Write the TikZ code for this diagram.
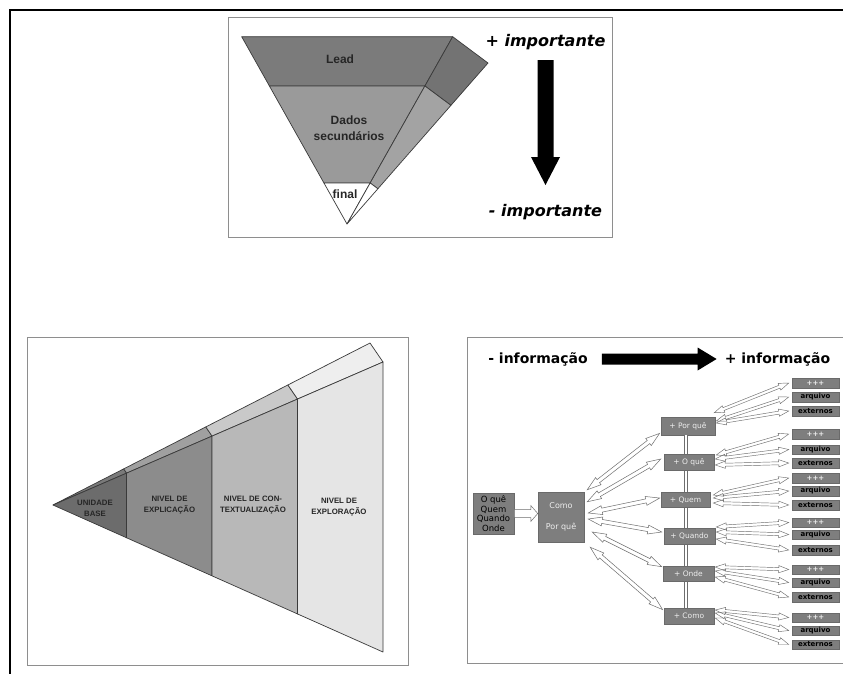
\documentclass[tikz,border=0pt]{standalone}
\usepackage{fontspec}
\setmainfont{Liberation Sans}
\newfontfamily\dvs{DejaVu Sans}
\usetikzlibrary{calc}

\definecolor{panelln}{HTML}{8E8E8E}
\definecolor{edgeln}{HTML}{3A3A3A}
\definecolor{leadfront}{HTML}{7B7B7B}
\definecolor{leadside}{HTML}{737373}
\definecolor{dadosfront}{HTML}{9A9A9A}
\definecolor{dadosside}{HTML}{A3A3A3}
\definecolor{lvA}{HTML}{6C6C6C}
\definecolor{lvB}{HTML}{8C8C8C}
\definecolor{lvC}{HTML}{B8B8B8}
\definecolor{lvD}{HTML}{E5E5E5}
\definecolor{stA}{HTML}{7A7A7A}
\definecolor{stB}{HTML}{A0A0A0}
\definecolor{stC}{HTML}{C9C9C9}
\definecolor{stD}{HTML}{EEEEEE}
\definecolor{boxfill}{HTML}{7E7E7E}
\definecolor{boxedge}{HTML}{6A6A6A}
\definecolor{boxtext}{HTML}{EEEEEE}
\definecolor{arrowln}{HTML}{6E6E6E}

\tikzset{
  hl/.store in=\arrL, hw/.store in=\arrH, sw/.store in=\arrS,
  ts/.store in=\arrB, te/.store in=\arrE,
  hl=10pt, hw=3.5pt, sw=1.5pt, ts=0pt, te=0pt,
  % outline of an arrow with a head at both ends
  twohead/.style={to path={
    let \p1=(\tikztostart), \p2=(\tikztotarget),
        \n1={atan2(\y2-\y1,\x2-\x1)},
        \n2={veclen(\x2-\x1,\y2-\y1)-\arrE},
        \n3={\arrB} in
    {[shift={(\p1)}, rotate=\n1]
      ({\n3*1pt},0pt) -- ({\n3*1pt+\arrL},\arrH) -- ({\n3*1pt+\arrL},\arrS)
      -- ({\n2*1pt-\arrL},\arrS) -- ({\n2*1pt-\arrL},\arrH) -- ({\n2*1pt},0pt)
      -- ({\n2*1pt-\arrL},-\arrH) -- ({\n2*1pt-\arrL},-\arrS)
      -- ({\n3*1pt+\arrL},-\arrS) -- ({\n3*1pt+\arrL},-\arrH) -- cycle}}},
  % outline of an arrow with a single head
  onehead/.style={to path={
    let \p1=(\tikztostart), \p2=(\tikztotarget),
        \n1={atan2(\y2-\y1,\x2-\x1)},
        \n2={veclen(\x2-\x1,\y2-\y1)-\arrE},
        \n3={\arrB} in
    {[shift={(\p1)}, rotate=\n1]
      ({\n3*1pt},\arrS) -- ({\n2*1pt-\arrL},\arrS) -- ({\n2*1pt-\arrL},\arrH)
      -- ({\n2*1pt},0pt) -- ({\n2*1pt-\arrL},-\arrH) -- ({\n2*1pt-\arrL},-\arrS)
      -- ({\n3*1pt},-\arrS) -- cycle}}},
  panel/.style={draw=panelln, line width=1pt},
  face/.style={draw=edgeln, line width=0.7pt, line join=round},
  funtxt/.style={inner sep=0pt, text=black!85, font=\bfseries\fontsize{12}{16}\selectfont, align=center},
  lvtxt/.style={inner sep=0pt, text=black!85, font=\bfseries\fontsize{7.8}{11}\selectfont, align=center},
  bigtxt/.style={inner sep=0pt, font=\dvs\bfseries\itshape\fontsize{16}{18}\selectfont},
  infotxt/.style={inner sep=0pt, font=\dvs\bfseries\fontsize{14}{16}\selectfont},
  gbox/.style={fill=boxfill, draw=boxedge, line width=0.5pt, inner sep=0pt,
    font=\dvs\fontsize{7.5}{9}\selectfont},
  midbox/.style={gbox, text=boxtext, minimum width=51pt, minimum height=16pt},
  leaf/.style={gbox, text=black, minimum width=47pt, minimum height=9.5pt,
    font=\dvs\bfseries\fontsize{7}{8}\selectfont},
  leafplus/.style={leaf, text=boxtext},
  longarr/.style={twohead, draw=arrowln, line width=0.5pt, hl=14pt, hw=4.5pt, sw=2pt},
  thinarr/.style={twohead, draw=arrowln, line width=0.45pt, hl=10pt, hw=3.6pt, sw=1.5pt},
  fatarr/.style={onehead, draw=arrowln, fill=white, line width=0.5pt, hl=7pt, hw=8pt, sw=4pt},
  blockarr/.style={onehead, fill=black},
  dline/.style={draw=arrowln, double=white, double distance=2pt, line width=0.6pt}
}

\begin{document}
\begin{tikzpicture}[x=1pt, y=-1pt]
\useasboundingbox (0,0) rectangle (843,673);
\fill[white] (0,0) rectangle (843,673);

% outer frame
\draw[line width=2.8pt, line join=miter] (10,690) -- (10,10) -- (860,10);

% ---------- inverted pyramid ----------
\draw[panel] (228,17) rectangle (612,237);
\coordinate (tl) at (241.7,36.7);
\coordinate (tr) at (452.7,36.7);
\coordinate (bk) at (488,63);
\coordinate (ap) at (347,224);
\coordinate (L1) at ($(tl)!0.263!(ap)$);
\coordinate (R1) at ($(tr)!0.263!(ap)$);
\coordinate (S1) at ($(bk)!0.263!(ap)$);
\coordinate (L2) at ($(tl)!0.781!(ap)$);
\coordinate (R2) at ($(tr)!0.781!(ap)$);
\coordinate (S2) at ($(bk)!0.781!(ap)$);
\filldraw[face, fill=leadfront] (tl) -- (tr) -- (R1) -- (L1) -- cycle;
\filldraw[face, fill=dadosfront] (L1) -- (R1) -- (R2) -- (L2) -- cycle;
\filldraw[face, fill=white] (L2) -- (R2) -- (ap) -- cycle;
\filldraw[face, fill=leadside] (tr) -- (bk) -- (S1) -- (R1) -- cycle;
\filldraw[face, fill=dadosside] (R1) -- (S1) -- (S2) -- (R2) -- cycle;
\filldraw[face, fill=white] (R2) -- (S2) -- (ap) -- cycle;
\node[funtxt] (lead) at (340,59) {Lead};
\node[funtxt] (dados) at (349,128) {Dados\\secundários};
\node[funtxt] (final) at (345,194) {final};

\node[bigtxt] (imp1) at (545.5,42) {+ importante};
\node[bigtxt] (imp2) at (545.5,212) {- importante};
\fill[blockarr, hl=28pt, hw=14.5pt, sw=8pt, ts=18pt, te=27pt] (imp1.center) to (imp2.center);

% ---------- expanding levels ----------
\draw[panel] (27,337) rectangle (408,665);
\coordinate (A) at (53,505);
\coordinate (T4) at (383,362);
\coordinate (K4) at (370,343);
\coordinate (B4) at (383,652);
\foreach \i/\f in {1/0.223, 2/0.482, 3/0.741}{
  \coordinate (T\i) at ($(A)!\f!(T4)$);
  \coordinate (K\i) at ($(A)!\f!(K4)$);
  \coordinate (B\i) at ($(A)!\f!(B4)$);
}
\filldraw[face, fill=stA] (A) -- (K1) -- (T1) -- cycle;
\filldraw[face, fill=stB] (T1) -- (K1) -- (K2) -- (T2) -- cycle;
\filldraw[face, fill=stC] (T2) -- (K2) -- (K3) -- (T3) -- cycle;
\filldraw[face, fill=stD] (T3) -- (K3) -- (K4) -- (T4) -- cycle;
\filldraw[face, fill=lvA] (A) -- (T1) -- (B1) -- cycle;
\filldraw[face, fill=lvB] (T1) -- (T2) -- (B2) -- (B1) -- cycle;
\filldraw[face, fill=lvC] (T2) -- (T3) -- (B3) -- (B2) -- cycle;
\filldraw[face, fill=lvD] (T3) -- (T4) -- (B4) -- (B3) -- cycle;
\node[lvtxt] (ub) at (95,508) {UNIDADE\\BASE};
\node[lvtxt] (nx) at (169.5,505.5) {NIVEL DE\\EXPLICAÇÃO};
\node[lvtxt] (nc) at (253,505.5) {NIVEL DE CON-\\TEXTUALIZAÇÃO};
\node[lvtxt] (ne) at (339,507) {NIVEL DE\\EXPLORAÇÃO};

% ---------- information tree ----------
\draw[panel] (467,337) rectangle (860,663);
\node[infotxt] (minfo) at (538,359) {- informação};
\node[infotxt] (pinfo) at (777.5,359) {+ informação};
\fill[blockarr, hl=19pt, hw=11.5pt, sw=5.5pt, ts=14pt, te=8pt] (minfo.east) to (pinfo.west);

\node[gbox, text=black, minimum width=41pt, minimum height=41pt, align=center,
  font=\dvs\fontsize{8.5}{9.5}\selectfont] (b1) at (493.5,513.5) {O quê\\Quem\\Quando\\Onde};
\node[gbox, text=boxtext, minimum width=46pt, minimum height=50pt, align=center,
  font=\dvs\fontsize{8}{9}\selectfont] (b2) at (561,517) {Como\\[12pt]Por quê};
\draw[fatarr] (b1.east) to (b1.east -| b2.west);

\node[midbox, minimum width=54pt, minimum height=18pt] (pq) at (688,426) {+ Por quê};
\node[midbox, minimum width=50pt] (cm) at (689,616) {+ Como};
\draw[dline] ([xshift=-2pt]pq.south) -- ([xshift=-2pt]pq.south |- cm.north);
\node[midbox, minimum width=50pt] (oq) at (689,462) {+ O quê};
\node[midbox, minimum width=49pt, minimum height=15pt] (qm) at (685.5,500) {+ Quem};
\node[midbox] (qd) at (689.5,536) {+ Quando};
\node[midbox, minimum height=15pt] (on) at (688.5,573.5) {+ Onde};

\draw[longarr] ([shift={(3,-2)}]b2.north east) to ([shift={(-1,-2)}]pq.south west);
\draw[longarr] ([shift={(3,10)}]b2.north east) to ([shift={(-3,-3)}]oq.west);
\draw[longarr] ([shift={(4,-4)}]b2.east) to ([shift={(-1,-2)}]qm.west);
\draw[longarr] ([shift={(4,2)}]b2.east) to ([shift={(-2,-4)}]qd.west);
\draw[longarr] ([shift={(8,15)}]b2.east) to ([shift={(-1,1)}]on.north west);
\draw[longarr] ([shift={(6,5)}]b2.south east) to ([shift={(-1,2)}]cm.north west);

% leaves
\foreach \g/\ya/\yb/\yc in {1/383/397/411, 2/434/449.5/463, 3/478/491/505,
                            4/522.5/534.5/550, 5/569.5/582.5/597, 6/617.5/630.5/644.5}{
  \node[leafplus] (a\g) at (815.5,\ya) {+++};
  \node[leaf] (r\g) at (815.5,\yb) {arquivo};
  \node[leaf] (x\g) at (815.5,\yc) {externos};
}

\draw[thinarr] ([shift={(-1,-4)}]pq.north east) to ([xshift=-3pt]a1.west);
\draw[thinarr] ([shift={(1,-5)}]pq.east) to ([xshift=-3pt]r1.west);
\draw[thinarr] ([shift={(1,-3)}]pq.east) to ([xshift=-3pt]x1.west);

\draw[thinarr] ([shift={(2,-7)}]oq.east) to ([xshift=-3pt]a2.west);
\draw[thinarr] ([shift={(1,-3)}]oq.east) to ([xshift=-3pt]r2.west);
\draw[thinarr] ([shift={(1,3)}]oq.east) to ([xshift=-3pt]x2.west);

\draw[thinarr] ([shift={(3,-5)}]qm.east) to ([xshift=-3pt]a3.west);
\draw[thinarr] ([shift={(3,-2)}]qm.east) to ([xshift=-3pt]r3.west);
\draw[thinarr] ([shift={(3,3)}]qm.east) to ([xshift=-3pt]x3.west);

\draw[thinarr] ([shift={(1,-9)}]qd.east) to ([xshift=-3pt]a4.west);
\draw[thinarr] ([shift={(1,-4)}]qd.east) to ([xshift=-3pt]r4.west);
\draw[thinarr] ([shift={(1,3)}]qd.east) to ([xshift=-3pt]x4.west);

\draw[thinarr] ([shift={(1,-6.5)}]on.east) to ([xshift=-3pt]a5.west);
\draw[thinarr] ([shift={(1,-2.5)}]on.east) to ([xshift=-3pt]r5.west);
\draw[thinarr] ([shift={(1,3.5)}]on.east) to ([xshift=-3pt]x5.west);

\draw[thinarr] ([shift={(1,-6)}]cm.east) to ([xshift=-3pt]a6.west);
\draw[thinarr] ([shift={(1,-3)}]cm.east) to ([xshift=-3pt]r6.west);
\draw[thinarr] ([shift={(1,2)}]cm.east) to ([xshift=-3pt]x6.west);
\end{tikzpicture}
\end{document}
